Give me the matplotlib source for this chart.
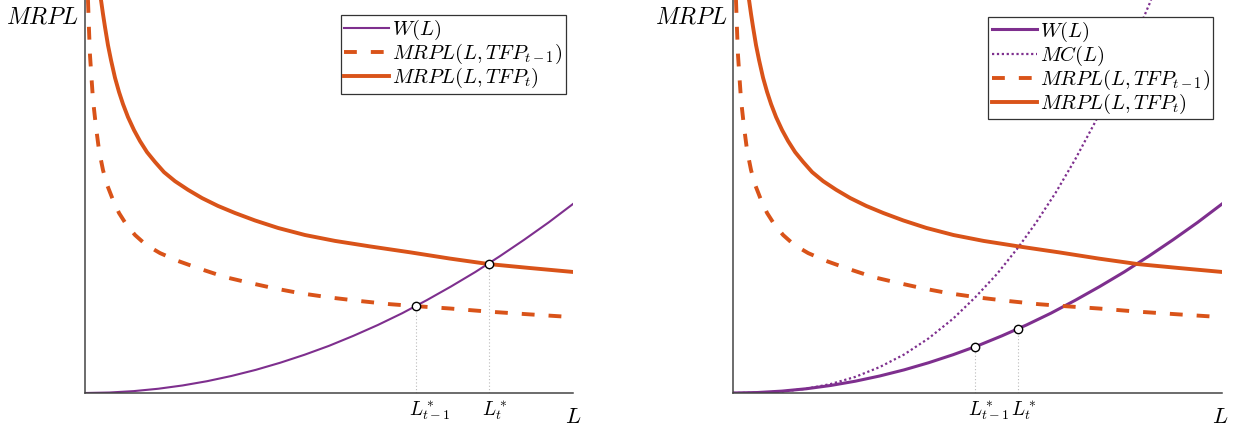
import matplotlib
matplotlib.use('Agg')
import matplotlib.pyplot as plt

plt.rcParams['mathtext.fontset'] = 'cm'
plt.rcParams['font.family'] = 'DejaVu Serif'

purple = '#7E2F8E'
orange = '#D95319'

# curves (L and MRPL in axis units 0..10)
mrpl_t_L = [0.328, 0.369, 0.410, 0.471, 0.533, 0.615, 0.697, 0.779, 0.881, 1.004,
            1.127, 1.270, 1.434, 1.619, 1.844, 2.111, 2.398, 2.725, 3.074, 3.484,
            3.955, 4.508, 5.123, 5.840, 6.660, 7.480, 8.279, 9.119, 10.0]
mrpl_t_y = [10.0, 9.64, 9.31, 8.85, 8.47, 8.02, 7.66, 7.35, 7.02, 6.69,
            6.41, 6.13, 5.88, 5.62, 5.39, 5.17, 4.96, 4.76, 4.58, 4.39,
            4.20, 4.02, 3.87, 3.73, 3.58, 3.42, 3.28, 3.18, 3.08]

mrpl_prev_L = [0.061, 0.082, 0.102, 0.133, 0.164, 0.225, 0.287, 0.369, 0.461, 0.574,
               0.697, 0.840, 1.025, 1.250, 1.537, 1.906, 2.357, 2.869, 3.381, 3.893,
               4.406, 5.020, 5.635, 6.250, 6.783, 7.480, 8.279, 9.119, 10.0]
mrpl_prev_y = [10.0, 9.24, 8.60, 8.02, 7.46, 6.77, 6.18, 5.67, 5.27, 4.91,
               4.58, 4.30, 4.02, 3.77, 3.56, 3.36, 3.16, 2.95, 2.80, 2.66,
               2.54, 2.43, 2.34, 2.26, 2.21, 2.15, 2.07, 2.00, 1.93]

wage_L = [0, 0.5, 1.0, 1.5, 2.0, 2.5, 3.0, 3.5, 4.0, 4.5, 5.0,
          5.5, 6.0, 6.5, 7.0, 7.5, 8.0, 8.5, 9.0, 9.5, 10.0]
wage_y = [0, 0.012, 0.048, 0.108, 0.192, 0.30, 0.433, 0.589, 0.77, 0.974, 1.20,
          1.455, 1.73, 2.03, 2.36, 2.71, 3.08, 3.48, 3.90, 4.34, 4.81]

mc_L = [0, 0.5, 1.0, 1.5, 2.0, 2.5, 3.0, 3.5, 4.0, 4.5, 4.95,
        5.4, 5.83, 6.2, 6.6, 7.0, 7.4, 7.8, 8.2, 8.55]
mc_y = [0, 0.006, 0.038, 0.108, 0.229, 0.41, 0.66, 0.98, 1.39, 1.89, 2.43,
        3.03, 3.70, 4.34, 5.10, 5.95, 6.88, 7.89, 8.98, 10.0]

# equilibria
left_eq_L = [6.78, 8.28]
left_eq_y = [2.21, 3.28]
right_eq_L = [4.95, 5.83]
right_eq_y = [1.18, 1.63]
eq_labels = [r'$L^*_{t-1}$', r'$L^*_t$']

fig = plt.figure(figsize=(12.33, 4.30), dpi=100)
ax1 = fig.add_axes([85 / 1233, 37 / 430, 488 / 1233, 393 / 430])
ax2 = fig.add_axes([733 / 1233, 37 / 430, 489 / 1233, 393 / 430])


def style(ax):
    ax.set_xlim(0, 10)
    ax.set_ylim(0, 10)
    ax.spines['top'].set_visible(False)
    ax.spines['right'].set_visible(False)
    for s in ['left', 'bottom']:
        ax.spines[s].set_color('#444444')
        ax.spines[s].set_linewidth(1.1)
    ax.set_xticks([])
    ax.set_yticks([])


def eq_points(ax, xs, ys):
    for x, y in zip(xs, ys):
        ax.plot([x, x], [0, y], color='#bbbbbb', lw=0.8, ls=(0, (1, 2)), zorder=1)
    ax.plot(xs, ys, 'o', ms=6, mfc='white', mec='black', mew=1.0, zorder=5)
    for x, lab in zip(xs, eq_labels):
        ax.annotate(lab, xy=(x, 0), xycoords=('data', 'axes fraction'),
                    xytext=(-7, -18), textcoords='offset pixels',
                    ha='left', va='center', fontsize=14, annotation_clip=False)


def add_legend(ax, anchor):
    leg = ax.legend(loc='upper right', bbox_to_anchor=anchor, fontsize=14.8,
                    fancybox=False, framealpha=1, edgecolor='#333333',
                    borderpad=0.15, labelspacing=0.0, handlelength=2.2,
                    handletextpad=0.15, borderaxespad=0)
    leg.get_frame().set_linewidth(0.9)


# left panel
style(ax1)
ax1.plot(wage_L, wage_y, color=purple, lw=1.5, label=r'$W(L)$')
ax1.plot(mrpl_prev_L, mrpl_prev_y, color=orange, lw=2.8, dashes=(3.3, 3.6),
         label=r'$MRPL(L,TFP_{t-1})$')
ax1.plot(mrpl_t_L, mrpl_t_y, color=orange, lw=2.8, label=r'$MRPL(L,TFP_t)$')
eq_points(ax1, left_eq_L, left_eq_y)
add_legend(ax1, (0.985, 0.962))

# right panel
style(ax2)
ax2.plot(wage_L, wage_y, color=purple, lw=2.2, label=r'$W(L)$')
ax2.plot(mc_L, mc_y, color=purple, lw=1.6, dashes=(1, 1.2), label=r'$MC(L)$')
ax2.plot(mrpl_prev_L, mrpl_prev_y, color=orange, lw=2.8, dashes=(3.3, 3.6),
         label=r'$MRPL(L,TFP_{t-1})$')
ax2.plot(mrpl_t_L, mrpl_t_y, color=orange, lw=2.8, label=r'$MRPL(L,TFP_t)$')
eq_points(ax2, right_eq_L, right_eq_y)
add_legend(ax2, (0.982, 0.958))

# axis labels
for x0, x1 in [(43, 573), (692, 1220)]:
    fig.text(x0 / 1233, 1 - 17 / 430, r'$MRPL$', fontsize=17, ha='center', va='center')
    fig.text(x1 / 1233, 1 - 417 / 430, r'$L$', fontsize=16, ha='center', va='center')

fig.savefig('out.png', dpi=100)
